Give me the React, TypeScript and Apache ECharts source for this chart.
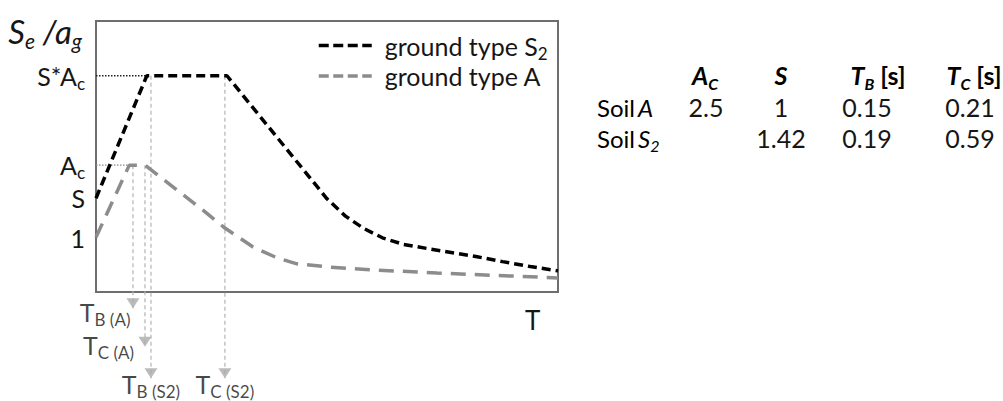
import { useEffect, useRef } from 'react';
import * as echarts from 'echarts';

const FONT = 'Lato, "Noto Sans", sans-serif';
const INK = '#161616';
const FRAME = '#6e6e6e';
const DROP = '#b4b4b4';

// Schematic elastic response spectra: period T [s] against ordinate Se/ag
const periodS2 = [0, 0.22, 0.567, 1.0, 1.08, 1.16, 1.24, 1.33, 1.45, 1.55, 1.65, 1.76, 1.88, 2.0];
const spectrumS2 = [1.73, 3.99, 3.99, 1.72, 1.4, 1.17, 1.0, 0.88, 0.79, 0.72, 0.65, 0.56, 0.47, 0.39];
const periodA = [0, 0.144, 0.212, 0.333, 0.463, 0.558, 0.68, 0.784, 0.87, 1.013, 1.186, 1.476, 2.0];
const spectrumA = [1.01, 2.34, 2.34, 1.94, 1.51, 1.18, 0.83, 0.63, 0.52, 0.46, 0.41, 0.35, 0.26];

// Ordinate levels marked on the vertical axis
const levelValues = [1, 1.73, 2.34, 3.99];
const levelNames = ['1', 'S', 'A_c', 'S*A_c'];

// Plateau guide lines running from the vertical axis
const guideEnds = [0.144, 0.22];
const guideLevels = [2.34, 3.99];
const guideColors = ['#8a8a8a', '#222222'];

// Corner periods and the plateau each one drops from
const cornerNames = ['B (A)', 'C (A)', 'B (S2)', 'C (S2)'];
const cornerPeriods = [0.16, 0.212, 0.238, 0.558];
const cornerLevels = [2.34, 2.34, 3.99, 3.99];

// Parameter table
const soilNames = ['A', 'S_2'];
const soilAc = [2.5, null];
const soilS = [1, 1.42];
const soilTB = [0.15, 0.19];
const soilTC = [0.21, 0.59];
const tableHeaders = ['A_C', 'S', 'T_B [s]', 'T_C [s]'];

const SERIES_S2 = 'ground type S2';
const SERIES_A = 'ground type A';

// depth of the annotation arrows below the time axis (ordinate units)
const arrowDepth = [-0.3, -1.01, -1.59, -1.59];
const cornerLabelLayout = [
  { position: 'left', distance: 0, offset: [4, 9] },
  { position: 'left', distance: 0, offset: [-4.5, 3] },
  { position: 'bottom', distance: -8, offset: [0, 0] },
  { position: 'bottom', distance: -8, offset: [0, 0] },
];

const zip = (xs: number[], ys: number[]) => xs.map((x, i) => [x, ys[i]]);

// "A_c" -> rich text with the part after "_" as a subscript
function subRich(text: string, main: string, sub: string) {
  const [head, rest] = text.split('_');
  if (rest === undefined) return `{${main}|${head}}`;
  const m = rest.match(/^(\S+)(.*)$/);
  const s = m ? m[1] : rest;
  const tail = m ? m[2] : '';
  return `{${main}|${head}}{${sub}|${s}}` + (tail ? `{tail|${tail}}` : '');
}

// main glyphs centred on the line, subscripts pushed below the baseline
function richSet(size: number, subSize: number, extra: Record<string, unknown> = {}) {
  return {
    m: { fontSize: size, fontFamily: FONT, color: INK, lineHeight: size + 2, verticalAlign: 'middle', ...extra },
    s: {
      fontSize: subSize,
      fontFamily: FONT,
      color: INK,
      height: subSize - 5,
      lineHeight: subSize - 5,
      verticalAlign: 'bottom',
      ...extra,
    },
  };
}

function buildTable() {
  const els: any[] = [];
  const headerX = [705, 781, 878, 974];
  const colX = [706, 781, 867, 970];
  const headerY = 75;
  const rowY = [107, 138];
  const bold = { fontWeight: 'bold', fontStyle: 'italic' };
  tableHeaders.forEach((h, i) => {
    els.push({
      type: 'text',
      x: headerX[i],
      y: headerY,
      style: {
        text: subRich(h, 'm', 's'),
        align: 'center',
        verticalAlign: 'middle',
        rich: {
          ...richSet(25, 16, bold),
          tail: { fontSize: 25, fontFamily: FONT, color: INK, fontWeight: 'bold', lineHeight: 27, verticalAlign: 'middle' },
        },
      },
    });
  });
  const cols = [soilAc, soilS, soilTB, soilTC];
  soilNames.forEach((soil, r) => {
    els.push({
      type: 'text',
      x: 597,
      y: rowY[r],
      style: {
        text: `{p|Soil}` + subRich(soil, 'm', 's'),
        align: 'left',
        verticalAlign: 'middle',
        rich: {
          p: { fontSize: 24, fontFamily: FONT, color: INK, lineHeight: 26, verticalAlign: 'middle', padding: [0, 3, 0, 0] },
          ...richSet(24, 16, { fontStyle: 'italic' }),
        },
      },
    });
    cols.forEach((col, c) => {
      const v = col[r];
      if (v === null || v === undefined) return;
      els.push({
        type: 'text',
        x: colX[c],
        y: rowY[r],
        style: {
          text: String(v),
          fontSize: 25,
          fontFamily: FONT,
          fill: INK,
          align: 'center',
          verticalAlign: 'middle',
        },
      });
    });
  });
  return els;
}

export default function App() {
  const ref = useRef<HTMLDivElement>(null);

  useEffect(() => {
    if (!ref.current) return;
    const chart = echarts.init(ref.current, undefined, { renderer: 'svg' });

    const guideSeries = guideEnds.map((end, i) => ({
      type: 'line',
      data: [[0, guideLevels[i]], [end, guideLevels[i]]],
      symbol: 'none',
      silent: true,
      z: 2,
      lineStyle: { color: guideColors[i], width: 1.3, type: [1.5, 1.5] },
    }));

    const dropSeries = cornerPeriods.map((t, i) => ({
      type: 'line',
      data: [[t, cornerLevels[i]], [t, arrowDepth[i]]],
      symbol: 'none',
      silent: true,
      clip: false,
      z: 1,
      lineStyle: { color: DROP, width: 1.2, type: [4, 3] },
    }));

    const arrowSeries = {
      type: 'scatter',
      clip: false,
      silent: true,
      z: 4,
      symbol: 'path://M0,0L13,0L6.5,10Z',
      symbolSize: [13, 10],
      symbolOffset: [0, -5],
      itemStyle: { color: '#aaaaaa' },
      data: cornerPeriods.map((t, i) => ({
        value: [t, arrowDepth[i]],
        label: {
          show: true,
          position: cornerLabelLayout[i].position,
          distance: cornerLabelLayout[i].distance,
          offset: cornerLabelLayout[i].offset,
          formatter: `{m|T}{s|${cornerNames[i]}}`,
          rich: richSet(25, 17),
        },
      })),
    };

    const option: any = {
      animation: false,
      backgroundColor: '#ffffff',
      grid: {
        left: 96,
        top: 21,
        width: 462,
        height: 271,
        show: true,
        borderColor: FRAME,
        borderWidth: 2,
        backgroundColor: 'transparent',
      },
      legend: {
        orient: 'vertical',
        left: 317,
        top: 33,
        padding: 0,
        itemWidth: 53,
        itemHeight: 14,
        itemGap: 2,
        selectedMode: false,
        data: [
          { name: SERIES_S2, lineStyle: { width: 3.5, type: [10, 4.5], color: '#000' }, itemStyle: { opacity: 0 } },
          { name: SERIES_A, lineStyle: { width: 3.5, type: [10, 4.5], color: '#8c8c8c' }, itemStyle: { opacity: 0 } },
        ],
        formatter: (name: string) =>
          name === SERIES_S2 ? '{m|ground type S}{s|2}' : '{m|ground type A}',
        textStyle: {
          padding: [0, 0, 0, 8],
          rich: richSet(25, 17),
        },
      },
      xAxis: {
        type: 'value',
        min: 0,
        max: 2,
        axisLine: { show: false },
        axisTick: { show: false },
        axisLabel: { show: false },
        splitLine: { show: false },
        name: 'T',
        nameLocation: 'end',
        nameGap: -33,
        nameTextStyle: {
          fontSize: 26,
          fontFamily: FONT,
          color: INK,
          align: 'left',
          verticalAlign: 'top',
          padding: [15, 0, 0, 0],
        },
      },
      yAxis: {
        type: 'value',
        min: 0,
        max: 5,
        axisLine: { show: false },
        axisTick: { show: false },
        splitLine: { show: false },
        axisLabel: {
          margin: 11,
          customValues: levelValues,
          formatter: (v: number) => {
            const i = levelValues.findIndex((l) => Math.abs(l - v) < 1e-6);
            return i < 0 ? '' : subRich(levelNames[i], 'm', 's');
          },
          rich: richSet(25, 17),
        },
        name: '{m|S}{s|e}{m| /a}{s|g}',
        nameLocation: 'end',
        nameGap: -10,
        nameTextStyle: {
          align: 'right',
          verticalAlign: 'middle',
          padding: [0, 14, 0, 0],
          rich: richSet(33, 21, { fontStyle: 'italic' }),
        },
      },
      series: [
        ...dropSeries,
        ...guideSeries,
        {
          name: SERIES_A,
          type: 'line',
          data: zip(periodA, spectrumA),
          symbol: 'none',
          z: 3,
          lineStyle: { color: '#8c8c8c', width: 3.5, type: [15, 9] },
          itemStyle: { color: '#8c8c8c' },
        },
        {
          name: SERIES_S2,
          type: 'line',
          data: zip(periodS2, spectrumS2),
          symbol: 'none',
          z: 3,
          lineStyle: { color: '#000000', width: 3.5, type: [9, 5] },
          itemStyle: { color: '#000000' },
        },
        arrowSeries,
      ],
      graphic: buildTable(),
    };

    chart.setOption(option);
    return () => chart.dispose();
  }, []);

  return (
    <div
      ref={ref}
      style={{ position: 'fixed', left: 0, top: 0, width: 1003, height: 401, background: '#fff' }}
    />
  );
}
